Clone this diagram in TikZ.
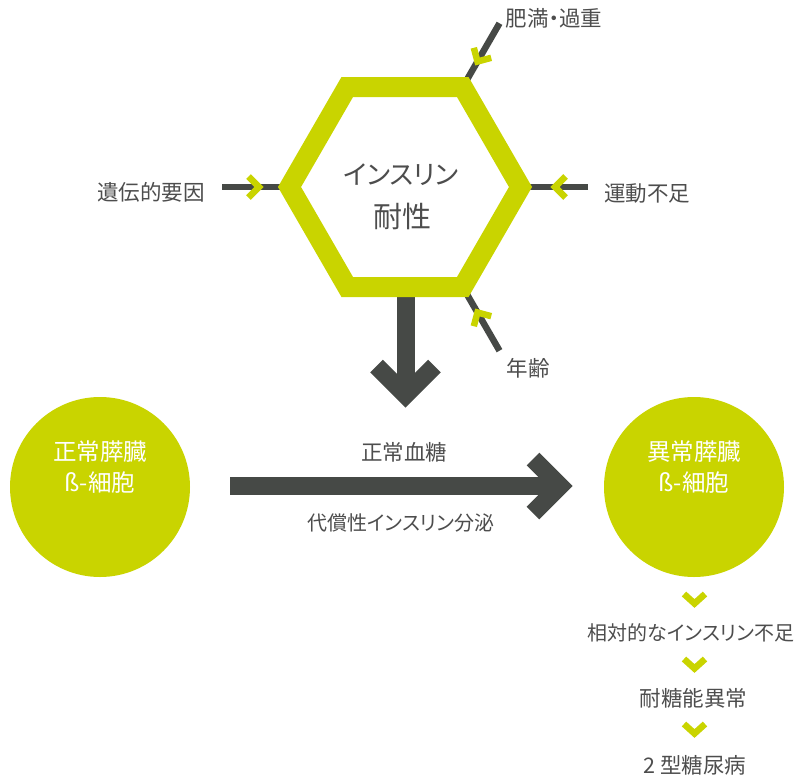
\documentclass[tikz,border=0pt]{standalone}
\usepackage{fontspec}
\setmainfont{Noto Sans CJK JP}[RawFeature=+palt]
\definecolor{lime}{HTML}{C9D400}
\definecolor{arrowgray}{HTML}{464946}
\definecolor{txtgray}{HTML}{4D4D4D}
\begin{document}
\begin{tikzpicture}[x=1pt,y=-1pt,
  lbl/.style={text=txtgray, font=\fontsize{21.5}{26}\selectfont, inner sep=0pt, anchor=center},
  katalbl/.style={lbl, font=\fontsize{20}{24}\selectfont},
  hexlbl/.style={text=txtgray, font=\fontsize{29}{41}\selectfont, inner sep=0pt, anchor=center},
  hexkata/.style={hexlbl, font=\fontsize{26.5}{32}\selectfont},
  circlbl/.style={text=white, font=\fontsize{23.5}{31}\selectfont, inner sep=0pt, anchor=center, align=center},
  feed/.style={draw=arrowgray, line width=6.5pt},
  chev/.style={draw=lime, line width=6.5pt, line join=miter},
  bigshaft/.style={draw=arrowgray, line width=18pt},
  bighead/.style={draw=arrowgray, line width=18pt, line join=miter},
  hexa/.style={draw=lime, line width=20pt, line join=miter},
  blob/.style={fill=lime, circle, minimum size=180pt, inner sep=0pt}]
\useasboundingbox (0,0) rectangle (796,777);

% hexagon vertices (centre line)
\coordinate (vL) at (289.5,187);
\coordinate (vTL) at (347.25,87);
\coordinate (vTR) at (462.75,87);
\coordinate (vR) at (520.5,187);
\coordinate (vBR) at (462.75,287);
\coordinate (vBL) at (347.25,287);

% free ends of feeding lines
\coordinate (eL) at (222,187);
\coordinate (eR) at (588,187);
\coordinate (eTR) at (499.5,23.3);
\coordinate (eBR) at (499.5,350.7);

% feeding lines (under the hexagon)
\draw[feed] (eL) -- (vL);
\draw[feed] (eR) -- (vR);
\draw[feed] (eTR) -- (vTR);
\draw[feed] (eBR) -- (vBR);

% down arrow shaft (under the hexagon)
\coordinate (dS) at (405.5,290);
\coordinate (dT) at (405.5,395);
\draw[bigshaft] (dS) -- (dT);
\draw[bighead] (376.5,366) -- (dT) -- (434.5,366);

% hexagon
\draw[hexa] (vL) -- (vTL) -- (vTR) -- (vR) -- (vBR) -- (vBL) -- cycle;

% chevrons on feeding lines
\draw[chev] (248.5,176.5) -- (259,187) -- (248.5,197.5);
\draw[chev] (565.5,176.5) -- (555,187) -- (565.5,197.5);
\draw[chev] (491.2,57.8) -- (477.5,61.5) -- (473.8,47.8);
\draw[chev] (491.2,316.2) -- (477.5,312.5) -- (473.8,326.2);

% hexagon text
\node[hexkata] (ir1) at (401,175) {インスリン};
\node[hexlbl] (ir2) at (402,216) {耐性};

% factor labels
\node[lbl] (obes) at (554,18) {肥満・過重};
\node[lbl] (gene) at (151,192) {遺伝的要因};
\node[lbl] (exer) at (647,193) {運動不足};
\node[lbl] (age) at (528,368) {年齢};

% circles
\node[blob] (cN) at (100,487) {};
\node[blob] (cA) at (694,487) {};
\node[circlbl] (tN1) at (100,452) {正常膵臓};
\node[circlbl] (tN2) at (100,483) {ß-細胞};
\node[circlbl] (tA1) at (694,452) {異常膵臓};
\node[circlbl] (tA2) at (694,483) {ß-細胞};

% horizontal arrow
\coordinate (hS) at (230,486);
\coordinate (hT) at (560,486);
\draw[bigshaft] (hS) -- (hT);
\draw[bighead] (533,459) -- (hT) -- (533,513);

\node[lbl] (norm) at (404,452) {正常血糖};
\node[katalbl] (comp) at (401,523) {代償性インスリン分泌};

% bottom chain
\draw[chev] (684,594) -- (694.5,603.5) -- (705,594);
\node[katalbl] (rel) at (691,633) {相対的なインスリン不足};
\draw[chev] (684,659) -- (694.5,668.5) -- (705,659);
\node[lbl] (igt) at (693.5,698) {耐糖能異常};
\draw[chev] (684,724) -- (694.5,733.5) -- (705,724);
\node[lbl] (t2d) at (695,765) {2 型糖尿病};
\end{tikzpicture}
\end{document}
